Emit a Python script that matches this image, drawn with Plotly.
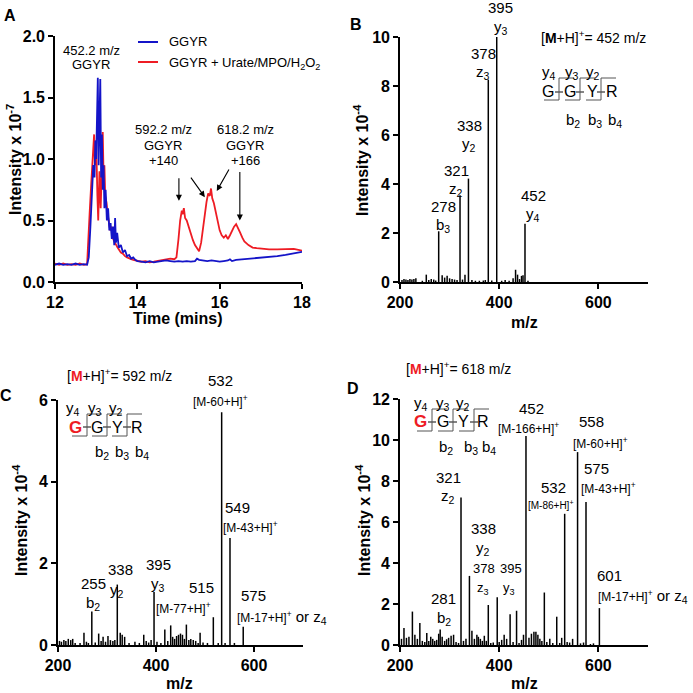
import plotly.graph_objects as go

W = H = 693
F = "Liberation Sans, Arial, sans-serif"
BLUE = "#1414C8"
RED = "#EE1C24"

# ---------------- Panel A : chromatogram data ----------------
blue_t = [12.00, 12.10, 12.20, 12.30, 12.40, 12.50, 12.60, 12.70, 12.78, 12.82, 12.86, 12.90, 12.93, 12.96,
          12.98, 13.00, 13.02, 13.04, 13.06, 13.08, 13.10, 13.12, 13.14, 13.16, 13.18, 13.20, 13.23, 13.26,
          13.29, 13.32, 13.35, 13.38, 13.41, 13.44, 13.46, 13.48, 13.51, 13.55, 13.60, 13.65, 13.70, 13.75,
          13.80, 13.85, 13.90, 13.95, 14.00, 14.10, 14.20, 14.30, 14.40, 14.50, 14.60, 14.70, 14.80, 14.90,
          15.00, 15.10, 15.20, 15.30, 15.40, 15.45, 15.50, 15.60, 15.70, 15.80, 15.90, 16.00, 16.10, 16.20,
          16.25, 16.30, 16.40, 16.60, 16.80, 17.00, 17.20, 17.40, 17.60, 17.80, 18.00]
blue_i = [0.14, 0.15, 0.14, 0.145, 0.14, 0.15, 0.14, 0.145, 0.14, 0.20, 0.45, 0.75, 0.95, 0.85,
          1.15, 1.00, 1.30, 1.66, 0.95, 1.40, 1.65, 0.85, 1.20, 0.75, 0.95, 0.60, 0.75, 0.50,
          0.60, 0.42, 0.48, 0.35, 0.45, 0.30, 0.52, 0.32, 0.40, 0.28, 0.30, 0.24, 0.26, 0.21,
          0.22, 0.19, 0.20, 0.18, 0.17, 0.165, 0.16, 0.17, 0.16, 0.165, 0.17, 0.175, 0.17, 0.165,
          0.17, 0.165, 0.17, 0.165, 0.17, 0.19, 0.18, 0.175, 0.17, 0.175, 0.17, 0.165, 0.17, 0.175,
          0.185, 0.17, 0.18, 0.185, 0.19, 0.195, 0.20, 0.21, 0.22, 0.23, 0.245]

red_t = [12.00, 12.10, 12.20, 12.30, 12.40, 12.50, 12.60, 12.70, 12.78, 12.80, 12.84, 12.88, 12.92, 12.95,
         12.97, 13.00, 13.03, 13.05, 13.08, 13.11, 13.14, 13.16, 13.18, 13.20, 13.22, 13.25, 13.28, 13.31,
         13.34, 13.37, 13.40, 13.44, 13.48, 13.52, 13.56, 13.60, 13.65, 13.70, 13.75, 13.80, 13.85, 13.90,
         14.00, 14.10, 14.20, 14.30, 14.40, 14.50, 14.60, 14.70, 14.80, 14.90, 14.95, 15.00, 15.04, 15.08,
         15.10, 15.13, 15.16, 15.20, 15.25, 15.30, 15.35, 15.40, 15.45, 15.50, 15.55, 15.60, 15.64, 15.68,
         15.72, 15.76, 15.79, 15.82, 15.86, 15.90, 15.95, 16.00, 16.05, 16.10, 16.15, 16.20, 16.25, 16.30,
         16.35, 16.40, 16.45, 16.50, 16.55, 16.60, 16.70, 16.80, 16.90, 17.00, 17.20, 17.40, 17.60, 17.80,
         18.00]
red_i = [0.15, 0.14, 0.15, 0.14, 0.145, 0.14, 0.15, 0.14, 0.145, 0.25, 0.55, 0.80, 1.10, 1.20,
         0.95, 1.15, 0.70, 0.50, 0.90, 0.60, 0.95, 1.22, 0.85, 0.95, 0.70, 0.65, 0.55, 0.48,
         0.42, 0.45, 0.36, 0.33, 0.30, 0.28, 0.26, 0.24, 0.23, 0.21, 0.20, 0.19, 0.185, 0.18,
         0.17, 0.165, 0.17, 0.16, 0.165, 0.17, 0.175, 0.18, 0.19, 0.185, 0.20, 0.35, 0.50, 0.58,
         0.55, 0.60, 0.52, 0.50, 0.44, 0.40, 0.34, 0.30, 0.27, 0.25, 0.32, 0.45, 0.58, 0.65,
         0.72, 0.70, 0.76, 0.68, 0.64, 0.58, 0.48, 0.42, 0.38, 0.36, 0.38, 0.35, 0.38, 0.42,
         0.45, 0.47, 0.44, 0.40, 0.36, 0.33, 0.30, 0.28, 0.275, 0.27, 0.265, 0.265, 0.265, 0.27,
         0.255]

# ---------------- Panel B : MS/MS of 452 ----------------
B_mz = [204, 208, 212, 216, 220, 224, 228, 232, 245, 253, 258, 263, 268, 272, 278, 285, 290, 295, 300, 305,
        310, 315, 321, 326, 331, 338, 345, 352, 360, 368, 372, 378, 385, 395, 405, 412, 420, 428, 433, 437,
        441, 445, 448, 452, 458]
B_int = [0.08, 0.12, 0.10, 0.08, 0.12, 0.10, 0.12, 0.15, 0.05, 0.30, 0.08, 0.12, 0.10, 0.06, 2.07, 0.28,
         0.18, 0.25, 0.15, 0.12, 0.10, 0.08, 3.54, 0.10, 0.30, 4.22, 0.08, 0.05, 0.05, 0.06, 0.08, 8.26,
         0.06, 10.0, 0.05, 0.08, 0.05, 0.15, 0.50, 0.30, 0.12, 0.25, 0.28, 2.38, 0.05]

# ---------------- Panel C : MS/MS of 592 ----------------
C_mz = [203, 207, 212, 216, 221, 226, 230, 235, 245, 253, 258, 262, 269, 276, 283, 288, 292, 297, 302, 307,
        312, 316, 321, 327, 331, 336, 345, 357, 366, 375, 380, 385, 390, 396, 402, 410, 418, 424, 430, 434,
        438, 442, 446, 450, 454, 458, 462, 467, 471, 476, 481, 486, 490, 496, 505, 517, 527, 534, 541, 551,
        560, 578]
C_int = [0.10, 0.08, 0.12, 0.10, 0.15, 0.12, 0.15, 0.05, 0.05, 0.30, 0.08, 0.05, 0.82, 0.06, 0.28, 0.10,
         0.20, 0.08, 0.22, 0.12, 0.10, 0.12, 1.48, 0.30, 0.25, 0.20, 0.05, 0.08, 0.05, 0.25, 0.10, 0.06,
         0.12, 1.30, 0.08, 0.05, 0.38, 0.10, 0.48, 0.20, 0.15, 0.22, 0.25, 0.28, 0.25, 0.15, 0.50, 0.12,
         0.15, 0.12, 0.10, 0.05, 0.30, 0.06, 0.05, 0.68, 0.05, 5.70, 0.05, 2.62, 0.05, 0.45]

# ---------------- Panel D : MS/MS of 618 ----------------
D_mz = [203, 208, 213, 218, 225, 230, 235, 240, 245, 250, 254, 258, 262, 266, 270, 274, 278, 281, 285, 290,
        294, 298, 303, 308, 313, 318, 323, 328, 333, 340, 345, 350, 355, 358, 362, 366, 370, 374, 378, 383,
        388, 396, 400, 405, 410, 415, 422, 428, 435, 440, 445, 449, 454, 460, 465, 470, 474, 478, 482, 486,
        491, 496, 502, 508, 516, 522, 526, 532, 537, 542, 548, 558, 564, 570, 575, 584, 590, 602]
D_int = [0.30, 0.83, 0.35, 0.40, 1.63, 0.50, 0.30, 1.07, 0.20, 0.15, 0.58, 0.20, 0.40, 0.30, 0.20, 0.25,
         0.55, 0.75, 0.40, 0.20, 0.28, 0.35, 0.45, 0.50, 0.15, 0.10, 7.20, 0.20, 0.30, 3.37, 0.70, 0.30,
         0.50, 0.40, 0.30, 0.20, 0.45, 0.20, 1.95, 0.10, 0.12, 2.33, 0.15, 0.25, 0.50, 0.30, 1.50, 0.15,
         1.67, 0.10, 0.25, 0.50, 10.2, 0.35, 0.55, 0.65, 0.65, 0.50, 0.30, 0.20, 2.56, 0.15, 0.30, 0.10,
         1.38, 0.10, 0.35, 6.40, 0.15, 0.12, 0.30, 9.41, 0.08, 0.12, 6.97, 0.05, 0.08, 1.80]

A_xticks = [12, 14, 16, 18]
A_yticks = [0.0, 0.5, 1.0, 1.5, 2.0]
MZ_ticks = [200, 400, 600]


def px(x):
    return x / W


def py(y):
    return 1 - y / H


def sticks(mz, inten):
    xs, ys = [], []
    for m, h in zip(mz, inten):
        xs += [m, m, None]
        ys += [0, h, None]
    return xs, ys


fig = go.Figure()

fig.add_trace(go.Scatter(x=red_t, y=red_i, mode="lines", line=dict(color=RED, width=1.8),
                         xaxis="x", yaxis="y", showlegend=False))
fig.add_trace(go.Scatter(x=blue_t, y=blue_i, mode="lines", line=dict(color=BLUE, width=1.8),
                         xaxis="x", yaxis="y", showlegend=False))

for (mz, it), (xa, ya) in zip([(B_mz, B_int), (C_mz, C_int), (D_mz, D_int)],
                              [("x2", "y2"), ("x3", "y3"), ("x4", "y4")]):
    xs, ys = sticks(mz, it)
    fig.add_trace(go.Scatter(x=xs, y=ys, mode="lines", line=dict(color="black", width=1.5),
                             xaxis=xa, yaxis=ya, showlegend=False, connectgaps=False))

tickfont = dict(family=F, size=16, color="black", weight="bold")


def axis(domain, anchor, rng, tickvals, fmt=None):
    d = dict(domain=domain, anchor=anchor, range=rng, tickvals=tickvals, showline=True,
             linecolor="black", linewidth=1.6, ticks="outside", ticklen=5, tickwidth=1.6,
             tickcolor="black", showgrid=False, zeroline=False, tickfont=tickfont, fixedrange=True,
             automargin=False)
    if fmt:
        d["tickformat"] = fmt
    return d


fig.update_layout(
    template="none",
    width=W, height=H, margin=dict(l=0, r=0, t=0, b=0, pad=0, autoexpand=False),
    paper_bgcolor="white", plot_bgcolor="white", showlegend=False,
    xaxis=axis([px(55), px(302)], "y", [12, 18], A_xticks),
    yaxis=axis([py(282), py(36)], "x", [0, 2], A_yticks, ".1f"),
    xaxis2=axis([px(400), px(648)], "y2", [200, 700], MZ_ticks),
    yaxis2=axis([py(282), py(37)], "x2", [0, 10], [0, 2, 4, 6, 8, 10]),
    xaxis3=axis([px(58), px(303)], "y3", [200, 700], MZ_ticks),
    yaxis3=axis([py(645), py(400)], "x3", [0, 6], [0, 2, 4, 6]),
    xaxis4=axis([px(400), px(648)], "y4", [200, 700], MZ_ticks),
    yaxis4=axis([py(645), py(399)], "x4", [0, 12], [0, 2, 4, 6, 8, 10, 12]),
)

ann = []


def txt(x, y, s, size=14, bold=False, xanchor="center", angle=0, color="black"):
    ann.append(dict(x=px(x), y=py(y), xref="paper", yref="paper", text=s, showarrow=False,
                    xanchor=xanchor, yanchor="middle", textangle=angle,
                    font=dict(family=F, size=size, color=color, weight="bold" if bold else "normal")))


# panel letters
txt(10, 16, "A", 16, True)
txt(356, 25, "B", 16, True)
txt(6, 395, "C", 16, True)
txt(353, 388, "D", 16, True)

# axis titles
txt(14, 160, "Intensity x 10<sup>-7</sup>", 16, True, angle=-90)
txt(178, 319, "Time (mins)", 16, True)
txt(361, 160, "Intensity x 10<sup>-4</sup>", 16, True, angle=-90)
txt(524, 322, "m/z", 16, True)
txt(20, 520, "Intensity x 10<sup>-4</sup>", 16, True, angle=-90)
txt(180, 683, "m/z", 16, True)
txt(363, 520, "Intensity x 10<sup>-4</sup>", 16, True, angle=-90)
txt(524, 683, "m/z", 16, True)

# Panel A texts and legend
txt(91, 50, "452.2 m/z", 13)
txt(91, 65, "GGYR", 13)
for cx, lab in [(163, "+140"), (245, "+166")]:
    txt(cx, 129, "592.2 m/z" if lab == "+140" else "618.2 m/z", 13)
    txt(cx, 145, "GGYR", 13)
    txt(cx, 160, lab, 13)
txt(167, 42, "GGYR", 13, xanchor="left")
txt(167, 63, "GGYR + Urate/MPO/H<sub>2</sub>O<sub>2</sub>", 13, xanchor="left")

# arrows in A (tips in data coords)
for tx, ty, axp, ayp in [(15.01, 0.66, 0, -24), (15.64, 0.69, -15, -21),
                         (15.93, 0.74, 13, -23), (16.49, 0.50, 0, -50)]:
    ann.append(dict(x=tx, y=ty, xref="x", yref="y", ax=axp, ay=ayp, text="", showarrow=True,
                    arrowhead=2, arrowsize=1.1, arrowwidth=1.1, arrowcolor="black", standoff=0))

# Panel B labels
txt(539, 37, "[<b>M</b>+H]<sup>+</sup>= 452 m/z", 14, xanchor="left")
for x, y1, a, b in [(501, 8, "395", "y<sub>3</sub>"), (483, 53, "378", "z<sub>3</sub>"),
                    (469, 125, "338", "y<sub>2</sub>"), (456, 170, "321", "z<sub>2</sub>"),
                    (443, 206, "278", "b<sub>3</sub>"), (533, 195, "452", "y<sub>4</sub>")]:
    txt(x, y1, a, 15)
    txt(x, y1 + 19, b, 15)

# Panel C labels
REDM = "<span style='color:#EE1C24'><b>M</b></span>"
txt(65, 375, "[" + REDM + "+H]<sup>+</sup>= 592 m/z", 14, xanchor="left")
txt(220, 380, "532", 15)
txt(220, 401, "[M-60+H]<sup>+</sup>", 12)
txt(237, 507, "549", 15)
txt(250, 527, "[M-43+H]<sup>+</sup>", 12)
txt(158, 564, "395", 15)
txt(158, 584, "y<sub>3</sub>", 15)
txt(120, 569, "338", 15)
txt(117, 590, "y<sub>2</sub>", 15)
txt(93, 583, "255", 15)
txt(93, 603, "b<sub>2</sub>", 15)
txt(202, 587, "515", 15)
txt(183, 608, "[M-77+H]<sup>+</sup>", 12)
txt(253, 595, "575", 15)
txt(235, 617, "[M-17+H]<sup>+</sup><span style='font-size:15px'> or z<sub>4</sub></span>", 12,
    xanchor="left")

# Panel D labels
txt(404, 368, "[" + REDM + "+H]<sup>+</sup>= 618 m/z", 14, xanchor="left")
txt(531, 408, "452", 15)
txt(528, 428, "[M-166+H]<sup>+</sup>", 12)
txt(591, 422, "558", 15)
txt(600, 443, "[M-60+H]<sup>+</sup>", 12)
txt(596, 468, "575", 15)
txt(608, 488, "[M-43+H]<sup>+</sup>", 12)
txt(553, 487, "532", 15)
txt(551, 505, "[M-86+H]<sup>+</sup>", 10)
txt(448, 477, "321", 15)
txt(448, 497, "z<sub>2</sub>", 15)
txt(483, 528, "338", 15)
txt(483, 548, "y<sub>2</sub>", 15)
txt(484, 568, "378", 13)
txt(511, 568, "395", 13)
txt(483, 588, "z<sub>3</sub>", 13)
txt(509, 588, "y<sub>3</sub>", 13)
txt(444, 598, "281", 15)
txt(444, 618, "b<sub>2</sub>", 15)
txt(609, 575, "601", 15)
txt(596, 596, "[M-17+H]<sup>+</sup><span style='font-size:15px'> or z<sub>4</sub></span>", 12,
    xanchor="left")

# Sequence diagrams
shapes = []
seqs = [
    dict(yrow=73, grow=92, brow=120, gx=[548, 570, 592, 612], yx=[549, 572, 593],
         bx=[573, 595, 615], cx=[559, 580, 601], top=78, bot=100, red=False),
    dict(yrow=408, grow=427, brow=453, gx=[75, 97, 117, 137], yx=[73, 95, 116],
         bx=[102, 122, 142], cx=[87, 107, 127], top=414, bot=436, red=True),
    dict(yrow=403, grow=422, brow=447, gx=[420, 443, 463, 483], yx=[421, 443, 463],
         bx=[446, 471, 489], cx=[432, 453, 474], top=409, bot=431, red=True),
]
for s in seqs:
    for i, lab in enumerate(["y<sub>4</sub>", "y<sub>3</sub>", "y<sub>2</sub>"]):
        txt(s["yx"][i], s["yrow"], lab, 15)
    for i, lab in enumerate(["b<sub>2</sub>", "b<sub>3</sub>", "b<sub>4</sub>"]):
        txt(s["bx"][i], s["brow"], lab, 15)
    for i, r in enumerate(["G", "G", "Y", "R"]):
        if i == 0 and s["red"]:
            txt(s["gx"][i], s["grow"], r, 17, True, color=RED)
        else:
            txt(s["gx"][i], s["grow"], r, 16)
    for c in s["cx"]:
        shapes.append(dict(type="line", xref="paper", yref="paper", x0=px(c - 4), x1=px(c + 4),
                           y0=py(s["grow"]), y1=py(s["grow"]), line=dict(color="#333", width=1.2)))
        shapes.append(dict(type="line", xref="paper", yref="paper", x0=px(c), x1=px(c),
                           y0=py(s["top"]), y1=py(s["bot"]), line=dict(color="#555", width=1)))
        shapes.append(dict(type="line", xref="paper", yref="paper", x0=px(c), x1=px(c + 15),
                           y0=py(s["top"]), y1=py(s["top"]), line=dict(color="#555", width=1)))
        shapes.append(dict(type="line", xref="paper", yref="paper", x0=px(c - 15), x1=px(c),
                           y0=py(s["bot"]), y1=py(s["bot"]), line=dict(color="#555", width=1)))

# legend line samples
shapes.append(dict(type="line", xref="paper", yref="paper", x0=px(138), x1=px(158),
                   y0=py(42), y1=py(42), line=dict(color=BLUE, width=2)))
shapes.append(dict(type="line", xref="paper", yref="paper", x0=px(138), x1=px(158),
                   y0=py(62), y1=py(62), line=dict(color=RED, width=2)))

fig.update_layout(annotations=ann, shapes=shapes)
fig.write_html("out.html", config={"displayModeBar": False},
               post_script="document.body.style.margin='0px';document.body.style.padding='0px';"
                           "document.documentElement.style.overflow='hidden';")
